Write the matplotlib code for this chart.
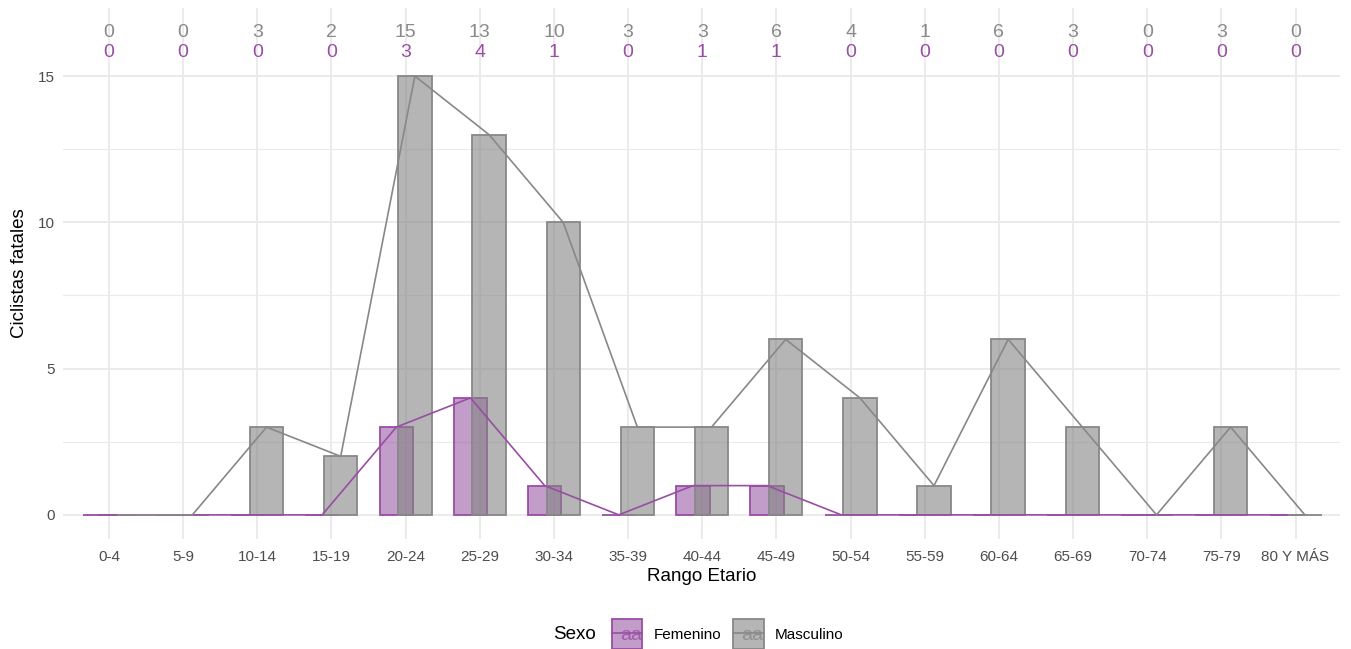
import matplotlib
matplotlib.use("Agg")
import matplotlib.pyplot as plt
import numpy as np
from matplotlib.legend_handler import HandlerBase
from matplotlib.patches import Rectangle
from matplotlib.lines import Line2D
from matplotlib.text import Text

plt.rcParams['font.family'] = ['Liberation Sans', 'DejaVu Sans']

categorias = ["0-4", "5-9", "10-14", "15-19", "20-24", "25-29", "30-34", "35-39",
              "40-44", "45-49", "50-54", "55-59", "60-64", "65-69", "70-74", "75-79", "80 Y MÁS"]
masculino = [0, 0, 3, 2, 15, 13, 10, 3, 3, 6, 4, 1, 6, 3, 0, 3, 0]
femenino = [0, 0, 0, 0, 3, 4, 1, 0, 1, 1, 0, 0, 0, 0, 0, 0, 0]
series_names = ["Femenino", "Masculino"]

PURPLE = "#984EA3"
PURPLE_FILL = "#93509F"
GRAY = "#848484"
GRAY_EDGE = "#888888"

fig = plt.figure(figsize=(13.51, 6.49), dpi=100)
ax = fig.add_axes([0.0466, 0.1695, 0.9453, 0.818])

x = np.arange(len(categorias))
off = 0.125
w = 0.45

ax.bar(x - off, femenino, width=w, color=PURPLE_FILL, alpha=0.56, edgecolor="none", zorder=2)
ax.bar(x - off, femenino, width=w, facecolor="none", edgecolor=PURPLE, linewidth=1.3, zorder=2.1)
ax.bar(x + off, masculino, width=w, color=GRAY, alpha=0.6, edgecolor="none", zorder=2.2)
ax.bar(x + off, masculino, width=w, facecolor="none", edgecolor=GRAY_EDGE, linewidth=1.3, zorder=2.3)

ax.plot(x - off, femenino, color=PURPLE, linewidth=1.2, zorder=3)
ax.plot(x + off, masculino, color=GRAY_EDGE, linewidth=1.2, zorder=3.1)

for i in range(len(categorias)):
    ax.text(x[i], 16.5, str(masculino[i]), ha="center", va="center", color="#8A8A8A", fontsize=14, zorder=4)
    ax.text(x[i], 15.82, str(femenino[i]), ha="center", va="center", color=PURPLE, fontsize=14, zorder=4)

ax.set_xlim(-0.62, 16.6)
ax.set_ylim(-0.825, 17.325)
ax.set_xticks(x)
ax.set_xticklabels(categorias)
ax.set_yticks([0, 5, 10, 15])
ax.set_yticks([2.5, 7.5, 12.5], minor=True)
ax.tick_params(axis="both", which="both", length=0, colors="#4D4D4D", labelsize=11)
ax.tick_params(axis="x", pad=8)
ax.tick_params(axis="y", pad=6)
ax.grid(True, which="major", color="#EBEBEB", linewidth=1.4, zorder=0)
ax.grid(True, which="minor", axis="y", color="#EBEBEB", linewidth=0.8, zorder=0)
ax.set_axisbelow(True)
for s in ax.spines.values():
    s.set_visible(False)

ax.set_xlabel("Rango Etario", fontsize=13.5, color="black", labelpad=3)
ax.set_ylabel("Ciclistas fatales", fontsize=13.5, color="black", labelpad=7)


class KeyHandler(HandlerBase):
    def __init__(self, face, edge, alpha):
        super().__init__()
        self.face = face
        self.edge = edge
        self.alpha = alpha

    def create_artists(self, legend, orig_handle, xdescent, ydescent, width, height, fontsize, trans):
        r = Rectangle((-xdescent, -ydescent), width, height, facecolor=self.face, alpha=self.alpha,
                      edgecolor="none", transform=trans)
        r2 = Rectangle((-xdescent, -ydescent), width, height, facecolor="none",
                       edgecolor=self.edge, linewidth=1.3, transform=trans)
        ln = Line2D([-xdescent, -xdescent + width], [-ydescent + height / 2 + 1] * 2,
                    color=self.edge, linewidth=1.2, transform=trans)
        t = Text(-xdescent + width / 2 + 3, -ydescent + height / 2 - 1, "aa", ha="center", va="center",
                 color=self.edge, alpha=0.8, fontsize=14, transform=trans)
        return [r, r2, ln, t]


h1 = Rectangle((0, 0), 1, 1)
h2 = Rectangle((0, 0), 1, 1)
leg = fig.legend([h1, h2], series_names, loc="center", bbox_to_anchor=(0.5385, 0.0231),
                 ncol=2, frameon=False, fontsize=11, handlelength=2.0, handleheight=2.55,
                 handletextpad=0.72, columnspacing=0.8, borderpad=0,
                 handler_map={h1: KeyHandler(PURPLE_FILL, PURPLE, 0.56), h2: KeyHandler(GRAY, GRAY_EDGE, 0.6)})
fig.text(553 / 1351, 0.0231, "Sexo", ha="left", va="center", fontsize=13.5, color="black")

fig.savefig("out.png", dpi=100)
